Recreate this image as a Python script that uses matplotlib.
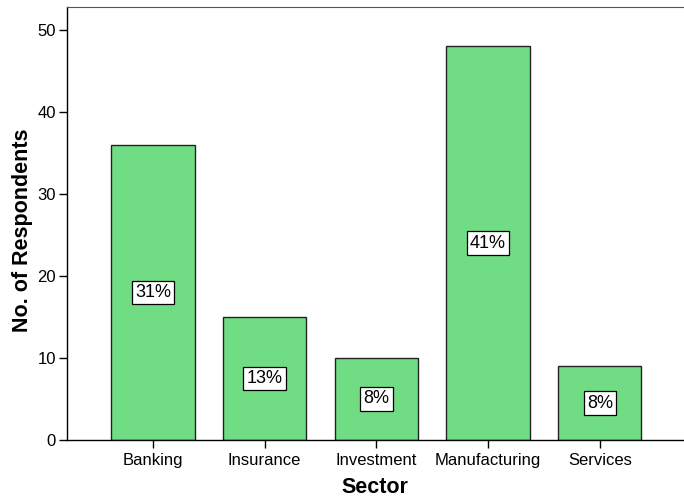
import matplotlib.pyplot as plt
import numpy as np

sectors = ['Banking', 'Insurance', 'Investment', 'Manufacturing', 'Services']
respondents = [36, 15, 10, 48, 9]
pct_labels = ['31%', '13%', '8%', '41%', '8%']

plt.rcParams['font.family'] = ['Liberation Sans', 'DejaVu Sans']

fig = plt.figure(figsize=(6.84, 4.97), dpi=100)
W, H = 684, 497
left, right, top, bottom = 66.5, 684, 7, 440
ax = fig.add_axes([left / W, (H - bottom) / H, (right - left) / W, (bottom - top) / H])

pos = np.arange(len(sectors))
ax.bar(pos, respondents, width=0.746, color='#70DC84', edgecolor='#222222', linewidth=1.0)

for x, v, lab in zip(pos, respondents, pct_labels):
    ax.text(x, v / 2, lab, ha='center', va='center', fontsize=13,
            bbox=dict(boxstyle='square,pad=0.18', facecolor='white', edgecolor='black', linewidth=0.9))

ax.set_xlim(-0.773, 4.754)
ax.set_ylim(0, 52.8)
ax.set_yticks([0, 10, 20, 30, 40, 50])
ax.set_xticks(pos)
ax.set_xticklabels(sectors)
ax.tick_params(axis='both', direction='out', length=6, width=1.0, labelsize=12, colors='black')
ax.tick_params(axis='y', pad=1.5)
ax.tick_params(axis='x', pad=3.5)

ax.spines['right'].set_visible(False)
ax.spines['top'].set_color('#555555')
ax.spines['left'].set_linewidth(1.0)
ax.spines['bottom'].set_linewidth(1.0)

ax.set_xlabel('Sector', fontsize=15.5, fontweight='bold', labelpad=6)
ax.set_ylabel('No. of Respondents', fontsize=15.5, fontweight='bold')
ax.yaxis.set_label_coords(-0.054, 0.485)

fig.savefig('out.png', dpi=100)
